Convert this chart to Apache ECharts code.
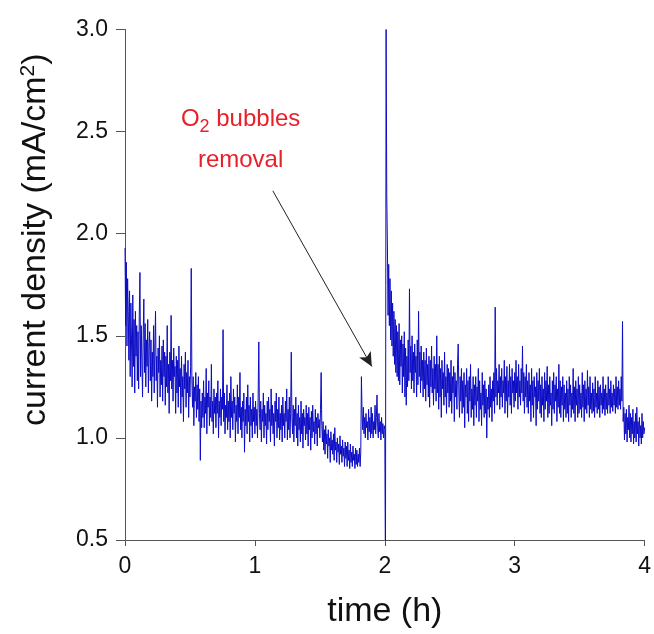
<!DOCTYPE html>
<html>
<head>
<meta charset="utf-8">
<script src="https://cdn.jsdelivr.net/npm/echarts@6/dist/echarts.min.js"></script>
<style>
html,body{margin:0;padding:0;background:#fff;}
#chart{width:654px;height:634px;}
</style>
</head>
<body>
<div id="chart"></div>
<script>
// ---- data ----
const xTickLabels = ['0', '1', '2', '3', '4'];
const yTickLabels = ['0.5', '1.0', '1.5', '2.0', '2.5', '3.0'];
const sampleStepH = 0.005;

// current density (mA/cm2), t = 0.000 .. 2.000 h, every 0.005 h (one row = 0.1 h)
const currentBeforeRemoval = [
  1.93, 1.55, 1.86, 1.45, 1.78, 1.62, 1.38, 1.72, 1.30, 1.66, 1.48, 1.25, 1.70, 1.35, 1.58, 1.22, 1.62, 1.40, 1.55, 1.28,
  1.52, 1.24, 1.60, 1.81, 1.30, 1.55, 1.38, 1.20, 1.50, 1.68, 1.32, 1.56, 1.25, 1.48, 1.35, 1.58, 1.22, 1.45, 1.52, 1.28,
  1.48, 1.18, 1.42, 1.30, 1.55, 1.22, 1.46, 1.62, 1.28, 1.40, 1.15, 1.44, 1.32, 1.50, 1.20, 1.38, 1.26, 1.45, 1.18, 1.48,
  1.30, 1.42, 1.16, 1.40, 1.25, 1.55, 1.22, 1.36, 1.12, 1.42, 1.28, 1.60, 1.24, 1.38, 1.18, 1.44, 1.30, 1.35, 1.12, 1.40,
  1.22, 1.38, 1.15, 1.45, 1.25, 1.34, 1.12, 1.40, 1.20, 1.30, 1.08, 1.36, 1.24, 1.42, 1.15, 1.32, 1.22, 1.38, 1.10, 1.30,
  1.20, 1.35, 1.83, 1.28, 1.15, 1.30, 1.06, 1.25, 1.18, 1.32, 1.10, 1.26, 1.14, 1.30, 1.08, 1.24, 0.89, 1.18, 1.05, 1.22,
  1.10, 1.28, 1.05, 1.20, 1.12, 1.34, 1.02, 1.22, 1.15, 1.28, 1.06, 1.20, 1.10, 1.36, 1.08, 1.18, 1.02, 1.24, 1.12, 1.20,
  1.05, 1.22, 1.12, 1.28, 1.00, 1.18, 1.10, 1.24, 1.06, 1.20, 1.14, 1.53, 1.08, 1.22, 1.02, 1.16, 1.10, 1.26, 1.04, 1.18,
  1.08, 1.22, 1.00, 1.30, 1.10, 1.18, 1.04, 1.24, 1.12, 1.20, 0.98, 1.16, 1.08, 1.26, 1.02, 1.20, 1.10, 1.32, 1.04, 1.15,
  1.00, 1.18, 1.08, 1.22, 0.93, 1.14, 1.06, 1.20, 1.02, 1.26, 1.08, 1.16, 0.98, 1.20, 1.06, 1.14, 1.00, 1.22, 1.08, 1.15,
  1.02, 1.18, 1.06, 1.14, 1.00, 1.20, 1.47, 1.12, 1.04, 1.18, 0.98, 1.14, 1.08, 1.22, 1.00, 1.16, 1.06, 1.12, 0.97, 1.18,
  1.04, 1.20, 1.08, 1.14, 0.98, 1.24, 1.06, 1.16, 1.02, 1.12, 0.96, 1.18, 1.08, 1.22, 1.00, 1.14, 1.05, 1.20, 0.99, 1.12,
  1.04, 1.16, 0.98, 1.20, 1.06, 1.12, 1.00, 1.18, 1.08, 1.24, 0.99, 1.14, 1.04, 1.20, 1.00, 1.12, 1.42, 1.10, 1.02, 1.16,
  0.98, 1.14, 1.06, 1.20, 1.00, 1.12, 0.96, 1.16, 1.04, 1.10, 0.98, 1.18, 1.02, 1.12, 0.95, 1.14, 1.06, 1.10, 0.99, 1.16,
  1.02, 1.12, 0.96, 1.15, 1.04, 1.10, 0.94, 1.13, 1.00, 1.16, 1.03, 1.08, 0.97, 1.14, 1.02, 1.10, 0.96, 1.12, 1.05, 1.09,
  1.00, 1.14, 1.32, 1.06, 0.98, 1.08, 0.94, 1.04, 0.92, 1.06, 0.97, 1.02, 0.90, 1.04, 0.96, 1.00, 0.88, 1.03, 0.94, 0.99,
  0.92, 1.02, 0.89, 1.05, 0.94, 0.98, 0.88, 1.00, 0.93, 0.97, 0.87, 1.01, 0.92, 0.96, 0.88, 0.99, 0.91, 0.95, 0.86, 0.98,
  0.90, 0.96, 0.86, 0.98, 0.89, 0.94, 0.85, 0.97, 0.88, 0.93, 0.86, 0.96, 0.89, 0.92, 0.85, 0.95, 0.87, 0.94, 0.86, 0.92,
  0.88, 0.95, 0.86, 0.93, 1.30, 1.12, 1.04, 1.15, 1.02, 1.10, 1.00, 1.12, 1.05, 1.08, 0.99, 1.14, 1.03, 1.10, 1.00, 1.15,
  1.02, 1.12, 1.00, 1.08, 1.04, 1.16, 1.02, 1.10, 1.21, 1.05, 1.00, 1.12, 1.03, 1.08, 0.99, 1.10, 1.02, 1.07, 1.00, 1.06,
  1.04
];

// the O2 bubble removal transient
const removalTimesH = [2.005, 2.01, 2.015];
const removalValues = [0.30, 3.00, 2.19];

// current density, t = 2.020 .. 4.000 h, every 0.005 h
const afterStartH = 2.02;
const currentAfterRemoval = [
  1.95, 1.60, 1.85, 1.55, 1.78, 1.48, 1.72, 1.45, 1.66, 1.40, 1.62, 1.36, 1.58, 1.32, 1.55, 1.30,
  1.52, 1.28, 1.56, 1.26, 1.48, 1.35, 1.50, 1.22, 1.46, 1.30, 1.52, 1.20, 1.44, 1.16, 1.40, 1.25, 1.48, 1.28, 1.73, 1.32,
  1.45, 1.24, 1.50, 1.28, 1.42, 1.22, 1.46, 1.32, 1.40, 1.20, 1.48, 1.26, 1.62, 1.30, 1.42, 1.22, 1.45, 1.28, 1.38, 1.20,
  1.42, 1.24, 1.38, 1.18, 1.44, 1.26, 1.36, 1.20, 1.40, 1.15, 1.38, 1.25, 1.45, 1.22, 1.34, 1.16, 1.40, 1.24, 1.36, 1.18,
  1.50, 1.22, 1.36, 1.14, 1.40, 1.20, 1.34, 1.10, 1.38, 1.24, 1.32, 1.16, 1.42, 1.20, 1.30, 1.12, 1.36, 1.22, 1.34, 1.15,
  1.32, 1.18, 1.38, 1.12, 1.30, 1.22, 1.35, 1.08, 1.32, 1.20, 1.28, 1.14, 1.36, 1.46, 1.22, 1.10, 1.30, 1.18, 1.34, 1.12,
  1.28, 1.15, 1.32, 1.05, 1.26, 1.20, 1.34, 1.12, 1.28, 1.08, 1.30, 1.18, 1.36, 1.10, 1.24, 1.14, 1.30, 1.06, 1.26, 1.16,
  1.30, 1.10, 1.25, 1.18, 1.34, 1.08, 1.28, 1.14, 1.22, 1.06, 1.32, 1.16, 1.26, 1.10, 1.28, 1.12, 1.24, 1.00, 1.20, 1.14,
  1.26, 1.10, 1.30, 1.15, 1.24, 1.08, 1.28, 1.18, 1.32, 1.12, 1.64, 1.20, 1.34, 1.16, 1.28, 1.22, 1.36, 1.14, 1.30, 1.20,
  1.34, 1.15, 1.28, 1.22, 1.38, 1.12, 1.30, 1.18, 1.35, 1.10, 1.28, 1.20, 1.36, 1.16, 1.30, 1.12, 1.34, 1.22, 1.28, 1.15,
  1.32, 1.18, 1.38, 1.22, 1.30, 1.14, 1.36, 1.20, 1.28, 1.16, 1.34, 1.22, 1.45, 1.18, 1.32, 1.12, 1.30, 1.20, 1.36, 1.15,
  1.28, 1.12, 1.32, 1.18, 1.26, 1.08, 1.34, 1.16, 1.28, 1.10, 1.30, 1.20, 1.25, 1.06, 1.32, 1.14, 1.28, 1.18, 1.34, 1.12,
  1.26, 1.10, 1.30, 1.16, 1.24, 1.08, 1.32, 1.14, 1.28, 1.18, 1.35, 1.10, 1.26, 1.12, 1.30, 1.16, 1.22, 1.06, 1.28, 1.14,
  1.32, 1.12, 1.26, 1.18, 1.30, 1.08, 1.24, 1.15, 1.36, 1.12, 1.28, 1.10, 1.25, 1.16, 1.30, 1.08, 1.26, 1.14, 1.22, 1.10,
  1.28, 1.12, 1.24, 1.08, 1.30, 1.16, 1.26, 1.10, 1.22, 1.14, 1.34, 1.12, 1.25, 1.08, 1.28, 1.16, 1.24, 1.10, 1.30, 1.12,
  1.26, 1.14, 1.22, 1.10, 1.32, 1.15, 1.26, 1.08, 1.28, 1.14, 1.24, 1.12, 1.33, 1.16, 1.25, 1.10, 1.30, 1.14, 1.22, 1.12,
  1.27, 1.13, 1.24, 1.10, 1.30, 1.15, 1.22, 1.12, 1.28, 1.14, 1.25, 1.10, 1.26, 1.16, 1.22, 1.12, 1.30, 1.14, 1.24, 1.11,
  1.26, 1.14, 1.22, 1.12, 1.30, 1.16, 1.24, 1.12, 1.28, 1.15, 1.22, 1.13, 1.26, 1.16, 1.24, 1.12, 1.30, 1.15, 1.25, 1.14,
  1.28, 1.16, 1.24, 1.14, 1.30, 1.18, 1.57, 1.08, 1.15, 0.99, 1.12, 1.02, 1.14, 0.98, 1.10, 1.04, 1.16, 1.00, 1.12, 0.98,
  1.10, 1.02, 1.14, 0.97, 1.08, 1.00, 1.12, 0.98, 1.15, 1.02, 1.08, 0.96, 1.10, 1.00, 1.06, 0.97, 1.12, 1.00, 1.08, 1.02,
  1.05
];

// annotation
const annotationLines = ['O{sub|2} bubbles', 'removal'];
const arrowFrom = [1.138, 2.21];
const arrowTo = [1.90, 1.35];

// ---- build series data ----
const seriesData = [];
currentBeforeRemoval.forEach((v, i) => seriesData.push([+(i * sampleStepH).toFixed(3), v]));
removalTimesH.forEach((t, i) => seriesData.push([t, removalValues[i]]));
currentAfterRemoval.forEach((v, i) => seriesData.push([+(afterStartH + i * sampleStepH).toFixed(3), v]));

const font = '"Liberation Sans", Arial, sans-serif';
const axisColor = '#555';

const chart = echarts.init(document.getElementById('chart'), null, {renderer: 'canvas'});
chart.setOption({
  animation: false,
  backgroundColor: '#fff',
  grid: {left: 125, right: 9, top: 29.5, bottom: 85, containLabel: false},
  xAxis: {
    type: 'value', min: 0, max: 4, interval: 1,
    name: 'time (h)', nameLocation: 'middle', nameGap: 55,
    nameTextStyle: {fontFamily: font, fontSize: 34, color: '#111'},
    axisLine: {show: true, onZero: false, lineStyle: {color: axisColor, width: 1}},
    axisTick: {show: true, inside: false, length: 6, lineStyle: {color: axisColor}},
    axisLabel: {margin: 15, fontFamily: font, fontSize: 23, color: '#111',
      formatter: v => xTickLabels[Math.round(v)]},
    splitLine: {show: false}
  },
  yAxis: {
    type: 'value', min: 0.5, max: 3.0, interval: 0.5,
    name: 'current density (mA/cm{sup|2})', nameLocation: 'middle', nameGap: 72, nameRotate: 90,
    nameTextStyle: {fontFamily: font, fontSize: 34, color: '#111', padding: [0, 0, 0, 90],
      rich: {sup: {fontFamily: font, fontSize: 21, color: '#111', verticalAlign: 'top', padding: [0, 0, 14, 0]}}},
    axisLine: {show: true, onZero: false, lineStyle: {color: axisColor, width: 1}},
    axisTick: {show: true, inside: false, length: 9, lineStyle: {color: axisColor}},
    axisLabel: {margin: 17, fontFamily: font, fontSize: 23, color: '#111',
      formatter: v => yTickLabels[Math.round((v - 0.5) / 0.5)]},
    splitLine: {show: false}
  },
  series: [{
    type: 'line',
    data: seriesData,
    showSymbol: false,
    symbol: 'none',
    clip: true,
    sampling: null,
    lineStyle: {color: '#0c0cc4', width: 1},
    markLine: {
      silent: true,
      symbol: ['none', 'arrow'],
      symbolSize: [10, 14],
      label: {show: false},
      lineStyle: {color: '#222', width: 1, type: 'solid'},
      data: [[{coord: arrowFrom}, {coord: arrowTo}]]
    }
  }]
});

// annotation text, anchored in data coordinates
const p1 = chart.convertToPixel({gridIndex: 0}, [0.89, 2.56]);
const p2 = chart.convertToPixel({gridIndex: 0}, [0.89, 2.36]);
chart.setOption({
  graphic: [
    {type: 'text', x: p1[0], y: p1[1], style: {text: annotationLines[0], font: '24px ' + font, fill: '#e8202a',
      align: 'center', verticalAlign: 'middle',
      rich: {sub: {font: '18px ' + font, fill: '#e8202a', padding: [16, 0, 0, 0]}}}},
    {type: 'text', x: p2[0], y: p2[1], style: {text: annotationLines[1], font: '24px ' + font, fill: '#e8202a',
      align: 'center', verticalAlign: 'middle'}}
  ]
});
</script>
</body>
</html>
